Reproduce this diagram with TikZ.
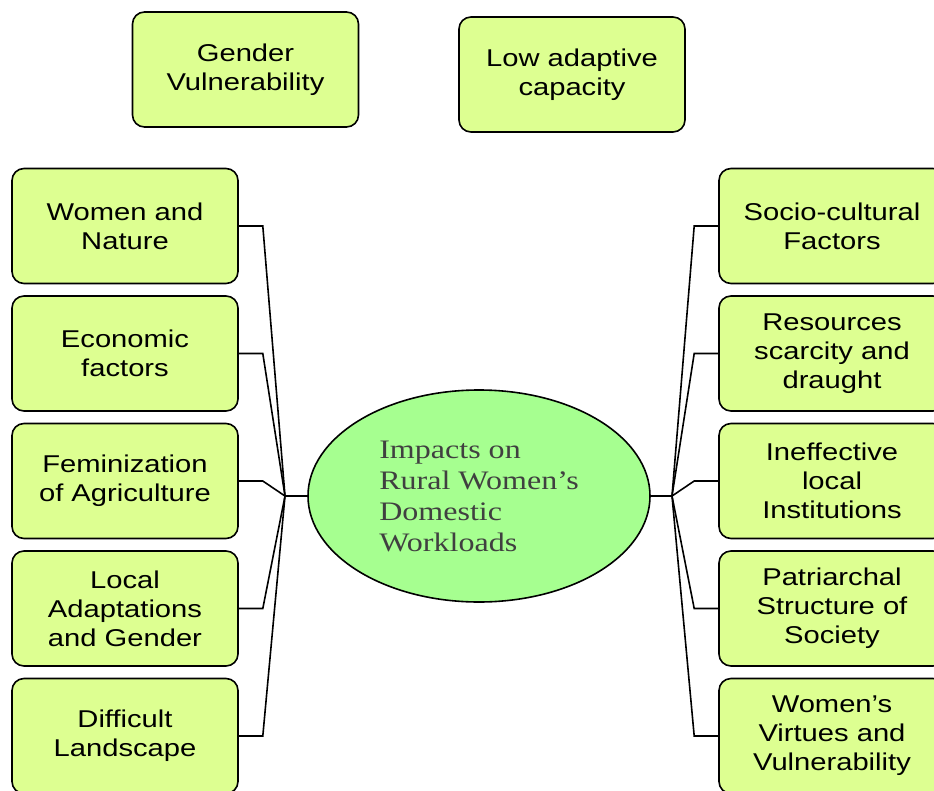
\documentclass[tikz,border=0pt]{standalone}
\usepackage{fontspec}
\newfontfamily\boxfont[FakeStretch=1.2]{Liberation Sans}
\newfontfamily\ellfont[FakeStretch=1.2]{Liberation Serif}
\definecolor{boxgreen}{RGB}{221,255,145}
\definecolor{ellgreen}{RGB}{166,255,144}
\definecolor{ellgray}{RGB}{64,64,64}
\usetikzlibrary{shapes.geometric}
\begin{document}
\begin{tikzpicture}[x=1pt,y=-1pt,line width=1.6pt,
  factor/.style={draw=black,fill=boxgreen,rounded corners=12pt,minimum width=226pt,minimum height=115pt,
    inner sep=0pt,align=center,font=\boxfont\fontsize{24.3}{29}\selectfont},
  impact/.style={ellipse,draw=black,fill=ellgreen,minimum width=342pt,minimum height=212pt,inner sep=0pt,
    align=left,text=ellgray,font=\ellfont\fontsize{26.7}{31}\selectfont}]
\clip (0,0) rectangle (934,790);
\node[factor] (gender) at (245.5,69.5) {Gender\\Vulnerability};
\node[factor] (adaptive) at (572,74.5) {Low adaptive\\capacity};
\node[impact] (impacts) at (479,496) {Impacts on\\Rural Women’s\\Domestic\\Workloads};
% left side
\node[factor] (nature) at (125,226) {Women and\\Nature};
\node[factor] (economic) at (125,353.5) {Economic\\factors};
\node[factor] (feminization) at (125,481) {Feminization\\of Agriculture};
\node[factor] (local) at (125,608.5) {Local\\Adaptations\\and Gender};
\node[factor] (landscape) at (125,736) {Difficult\\Landscape};
% right side
\node[factor] (socio) at (832,226) {Socio-cultural\\Factors};
\node[factor] (resources) at (832,353.5) {Resources\\scarcity and\\draught};
\node[factor] (institutions) at (832,481) {Ineffective\\local\\Institutions};
\node[factor] (patriarchal) at (832,608.5) {Patriarchal\\Structure of\\Society};
\node[factor] (virtues) at (832,736) {Women’s\\Virtues and\\Vulnerability};
\coordinate (leftjoin) at (285,496);
\coordinate (rightjoin) at (672,496);
\draw (leftjoin) -- (impacts.west);
\draw (rightjoin) -- (impacts.east);
\draw (nature.east) -- ++(24,0) -- (leftjoin);
\draw (economic.east) -- ++(24,0) -- (leftjoin);
\draw (feminization.east) -- ++(24,0) -- (leftjoin);
\draw (local.east) -- ++(24,0) -- (leftjoin);
\draw (landscape.east) -- ++(24,0) -- (leftjoin);
\draw (socio.west) -- ++(-24,0) -- (rightjoin);
\draw (resources.west) -- ++(-24,0) -- (rightjoin);
\draw (institutions.west) -- ++(-24,0) -- (rightjoin);
\draw (patriarchal.west) -- ++(-24,0) -- (rightjoin);
\draw (virtues.west) -- ++(-24,0) -- (rightjoin);
\end{tikzpicture}
\end{document}
